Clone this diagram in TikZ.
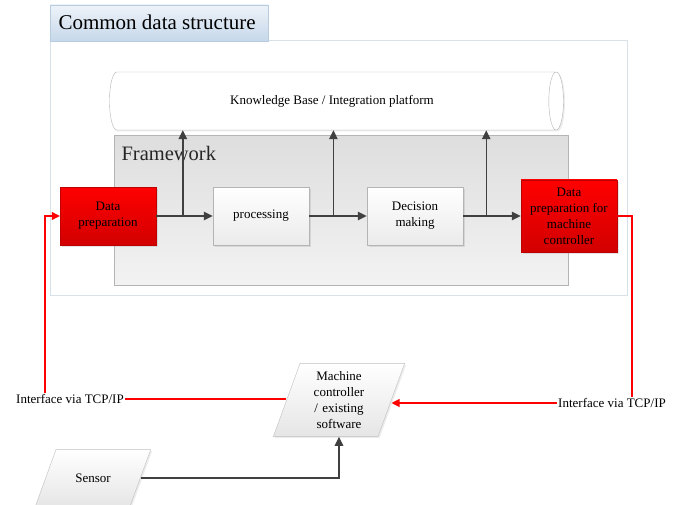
\documentclass[tikz,border=0pt]{standalone}
\usepackage{fontspec}
\setmainfont{Liberation Serif}
\usetikzlibrary{arrows.meta,shapes.geometric,shadows,calc}

\definecolor{arrgray}{HTML}{404040}
\definecolor{edgegray}{HTML}{B4B4B4}
\definecolor{tabtop}{HTML}{EEF3F9}
\definecolor{tabbot}{HTML}{C6D8EA}
\definecolor{tabedge}{HTML}{B8CCE0}
\definecolor{outeredge}{HTML}{D8E0E8}
\definecolor{redtop}{HTML}{FF0000}
\definecolor{redbot}{HTML}{D20000}

\tikzset{
    body/.style={font=\fontsize{13}{16}\selectfont},
    whitebox/.style={body,draw=edgegray,top color=white,bottom color=black!8,
        minimum width=96,minimum height=58,align=center,
        drop shadow={opacity=0.2,shadow xshift=1.5pt,shadow yshift=-1.5pt}},
    redbox/.style={whitebox,draw=red!75!black,top color=redtop,bottom color=redbot},
    para/.style={body,trapezium,trapezium left angle=70,trapezium right angle=110,
        draw=black!25,top color=white,bottom color=black!10,align=center,inner xsep=1pt,
        drop shadow={opacity=0.15,shadow xshift=1.5pt,shadow yshift=-1.5pt}},
    arr/.style={draw=arrgray,line width=1.4pt,-{Triangle[length=9pt,width=8.5pt]}},
    redarr/.style={draw=red,line width=1.1pt,-{Triangle[length=8pt,width=8pt]}},
    redline/.style={draw=red,line width=1.1pt}
}

\begin{document}
\begin{tikzpicture}[x=1pt,y=1pt]
\useasboundingbox (0,0) rectangle (684,504);

% containers
\node (cds) at (338.5,336) [draw=outeredge,line width=1pt,fill=white,minimum width=577,minimum height=254] {};
\node (tab) at (159,481) [draw=tabedge,top color=tabtop,bottom color=tabbot,minimum width=218,minimum height=36] {};
\node [anchor=west,font=\fontsize{21}{24}\selectfont] at (55,482) {Common data structure};

\node (fw) at (341,293.5) [draw=edgegray,line width=1pt,top color=black!13,bottom color=black!5,minimum width=454,minimum height=149] {};
\node [anchor=west,font=\fontsize{20.5}{24}\selectfont,text=black!85] at (118,351) {Framework};

\node (kb) at (331,403) [body,cylinder,draw=edgegray,fill=white,minimum width=58,minimum height=454,aspect=2.2,
    drop shadow={opacity=0.15,shadow xshift=1.5pt,shadow yshift=-1.5pt}] {};
\node at (332,403) [body] {Knowledge Base / Integration platform};

% process chain
\node (prep) at (108,288) [redbox] {Data\\preparation};
\node (proc) at (261,288) [whitebox] {processing};
\node (dec)  at (415,288) [whitebox] {Decision\\making};
\node (dpmc) at (569,288) [redbox,minimum height=72] {Data\\preparation for\\machine\\controller};

\draw[arr] (prep) -- (proc);
\draw[arr] (proc) -- (dec);
\draw[arr] (dec) -- (dpmc);

\coordinate (b1) at ($(prep.east)!0.47!(proc.west)$);
\coordinate (b2) at ($(proc.east)!0.42!(dec.west)$);
\coordinate (b3) at ($(dec.east)!0.4!(dpmc.west)$);
\draw[arr] (b1) -- (b1 |- kb.south);
\draw[arr] (b2) -- (b2 |- kb.south);
\draw[arr] (b3) -- (b3 |- kb.south);

% machine side
\node (mc) at (339,104) [para,text width=76,inner ysep=8pt] {Machine\\controller\\/ existing\\software};
\node (sensor) at (93,26) [para,text width=72,inner ysep=24pt] {Sensor};
\draw[arr] (sensor.east) -| (mc.south);

\node (ifl) at (70,105) [body,inner sep=1pt] {Interface via TCP/IP};
\node (ifr) at (612,101) [body,inner sep=1pt] {Interface via TCP/IP};
\coordinate (lt) at (45,0);
\coordinate (rt) at (632,0);

\draw[redline] (ifl.east) -- (ifl.east -| mc.west);
\draw[redarr] (lt |- ifl.north) |- (prep.west);
\draw[redline] (dpmc.east) -| (rt |- ifr.north);
\draw[redarr] (ifr.west) -- (ifr.west -| mc.east);
\end{tikzpicture}
\end{document}
